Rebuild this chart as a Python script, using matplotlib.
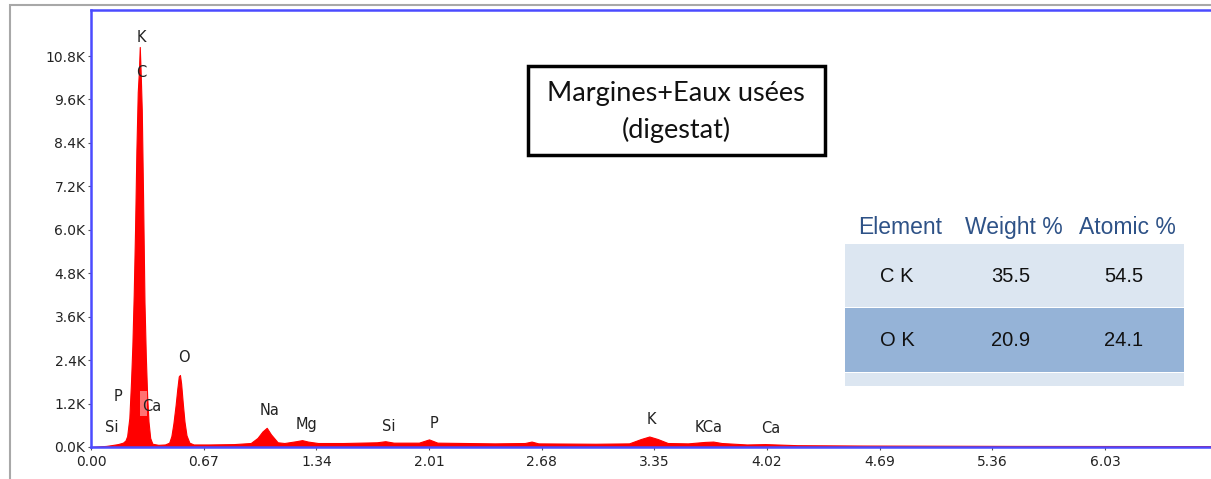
import numpy as np
import matplotlib.pyplot as plt
from matplotlib.patches import Rectangle

# EDS spectrum (keV, counts)
energy = [0.00, 0.09, 0.12, 0.16, 0.19, 0.205, 0.215, 0.228, 0.238, 0.246,
          0.254, 0.262, 0.270, 0.278, 0.285, 0.290, 0.295, 0.302, 0.310, 0.318,
          0.326, 0.334, 0.342, 0.352, 0.365, 0.40, 0.44, 0.465, 0.478, 0.49,
          0.503, 0.513, 0.522, 0.529, 0.536, 0.546, 0.556, 0.568, 0.585, 0.61,
          0.70, 0.85, 0.95, 0.99, 1.02, 1.045, 1.07, 1.11, 1.15, 1.22,
          1.255, 1.29, 1.35, 1.50, 1.70, 1.75, 1.80, 1.95, 2.01, 2.06,
          2.40, 2.58, 2.62, 2.66, 3.00, 3.20, 3.27, 3.32, 3.37, 3.43,
          3.55, 3.65, 3.70, 3.75, 3.90, 4.01, 4.20, 4.60, 5.50, 6.70]
counts = [0, 30, 50, 80, 120, 180, 300, 800, 1800, 2800,
          4200, 6000, 8200, 9800, 10400, 11050, 10400, 9300, 6800, 4000,
          2500, 1400, 700, 250, 90, 60, 70, 120, 300, 650,
          1150, 1600, 1950, 1990, 1750, 1200, 700, 320, 120, 70,
          70, 80, 110, 250, 430, 530, 350, 130, 110, 160,
          190, 150, 110, 110, 130, 160, 120, 120, 210, 120,
          100, 110, 150, 100, 90, 100, 220, 290, 220, 110,
          100, 140, 150, 110, 70, 80, 50, 40, 30, 25]

# peak labels (text, keV, counts)
peak_names = ["K", "C", "O", "Si", "P", "Ca", "Na", "Mg", "Si", "P", "K", "KCa", "Ca"]
peak_x = [0.30, 0.30, 0.553, 0.125, 0.16, 0.36, 1.064, 1.28, 1.77, 2.04, 3.335, 3.67, 4.04]
peak_y = [11300, 10350, 2480, 550, 1400, 1130, 1020, 610, 580, 640, 750, 550, 520]

xticks = [0.00, 0.67, 1.34, 2.01, 2.68, 3.35, 4.02, 4.69, 5.36, 6.03]
yticks = [0, 1200, 2400, 3600, 4800, 6000, 7200, 8400, 9600, 10800]
ytick_labels = ["0.0K", "1.2K", "2.4K", "3.6K", "4.8K", "6.0K", "7.2K", "8.4K", "9.6K", "10.8K"]

table_header = ["Element", "Weight %", "Atomic %"]
elements = ["C K", "O K"]
weight_pct = ["35.5", "20.9"]
atomic_pct = ["54.5", "24.1"]

W, H = 1211, 479


def fx(x):
    return x / W


def fy(y):
    return 1 - y / H


fig = plt.figure(figsize=(W / 100, H / 100), dpi=100)

# grey outer frame
fig.add_artist(Rectangle((fx(10), -0.05), 1.1, fy(5) + 0.05, transform=fig.transFigure,
                         fill=False, ec="#A8A8A8", lw=1.5))

ax = fig.add_axes([fx(91), 32 / H, 1124 / W, 437 / H])
ax.fill_between(energy, counts, color="#FF0000", lw=0.8, ec="#FF0000")
ax.add_patch(Rectangle((0.292, 850), 0.04, 700, fc="white", alpha=0.45, lw=0))
ax.set_xlim(0, 1124 / 168.16)
ax.set_ylim(0, 437 * 10800 / 391)

ax.set_xticks(xticks)
ax.set_xticklabels([f"{v:.2f}" for v in xticks])
ax.set_yticks(yticks)
ax.set_yticklabels(ytick_labels)
ax.tick_params(labelsize=10, length=2, width=0.8, color="#555555", labelcolor="#222222", pad=2)
ax.tick_params(axis="x", pad=4)

for side in ["left", "top", "bottom"]:
    ax.spines[side].set_color("#4B4BFF")
    ax.spines[side].set_linewidth(1.8)
ax.spines["right"].set_visible(False)

for name, x, y in zip(peak_names, peak_x, peak_y):
    ax.text(x, y, name, ha="center", va="center", fontsize=10.5, color="#222222")

# title box
fig.add_artist(Rectangle((fx(528), fy(155)), fx(825) - fx(528), fy(66) - fy(155),
                         transform=fig.transFigure, fill=False, ec="black", lw=2.5))
fig.text(fx(676), fy(94), "Margines+Eaux usées", ha="center", va="center",
         fontsize=19.5, family="Lato", color="#111111")
fig.text(fx(676), fy(130), "(digestat)", ha="center", va="center",
         fontsize=19.5, family="Lato", color="#111111")

# composition table
narrow = ["Liberation Sans Narrow", "Liberation Sans", "DejaVu Sans"]
fig.add_artist(Rectangle((fx(845), fy(307)), fx(1184) - fx(845), fy(244) - fy(307),
                         transform=fig.transFigure, fc="#DCE6F1", lw=0))
fig.add_artist(Rectangle((fx(845), fy(372)), fx(1184) - fx(845), fy(308) - fy(372),
                         transform=fig.transFigure, fc="#95B3D7", lw=0))
fig.add_artist(Rectangle((fx(845), fy(386)), fx(1184) - fx(845), fy(373) - fy(386),
                         transform=fig.transFigure, fc="#DCE6F1", lw=0))
col_x = [900, 1014, 1127]
for cx, head in zip(col_x, table_header):
    fig.text(fx(cx), fy(228), head, ha="center", va="center", fontsize=16.5,
             family=narrow, color="#2E5287")
row_y = [277, 340]
for i, ry in enumerate(row_y):
    for cx, val in zip(col_x, [elements[i], weight_pct[i], atomic_pct[i]]):
        fig.text(fx(cx - 3), fy(ry), val, ha="center", va="center", fontsize=14.5,
                 family=narrow, color="#111111")

fig.savefig("out.png", dpi=100)
